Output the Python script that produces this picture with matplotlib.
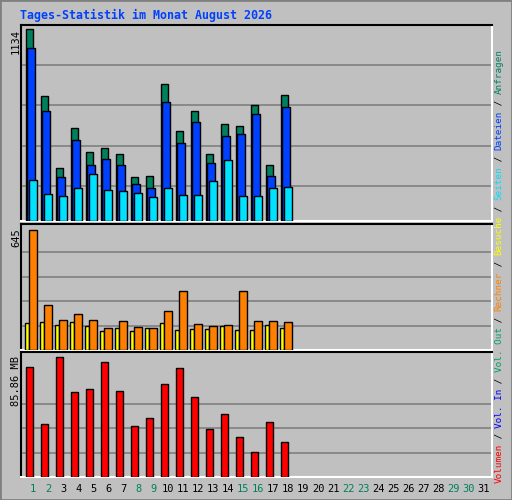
import matplotlib
matplotlib.use("Agg")
import matplotlib.pyplot as plt
from matplotlib.patches import Rectangle

days = list(range(1, 19))
hits  = [1134, 737, 316, 547, 405, 429, 393, 261, 267, 812, 533, 652, 397, 575, 563, 687, 328, 743]
files = [1020, 647, 261, 480, 332, 367, 332, 219, 196, 705, 462, 586, 344, 504, 516, 634, 267, 676]
pages = [243, 160, 148, 196, 279, 184, 178, 166, 142, 196, 154, 154, 237, 362, 148, 148, 196, 202]
visits = [145, 150, 134, 150, 129, 102, 118, 102, 118, 145, 108, 113, 113, 129, 108, 108, 134, 118]
sites  = [645, 242, 161, 194, 161, 118, 156, 124, 118, 210, 317, 140, 129, 134, 317, 156, 156, 150]
volume = [78.7, 37.6, 85.86, 60.5, 62.7, 82.0, 61.2, 36.8, 41.9, 66.2, 78.0, 56.9, 34.0, 45.4, 28.9, 18.2, 39.0, 25.4]
weekend_days = [1, 2, 8, 9, 15, 16, 22, 23, 29, 30]
title = "Tages-Statistik im Monat August 2026"
legend_parts = [("Volumen", "#ff0000"), ("Vol. In", "#0000ff"), ("Vol. Out", "#00a060"),
                ("Rechner", "#ff8000"), ("Besuche", "#ffff00"), ("Seiten", "#00e0ff"),
                ("Dateien", "#0040ff"), ("Anfragen", "#00805c")]

W, H = 512, 500
fig = plt.figure(figsize=(W/100, H/100), dpi=100, facecolor="#c0c0c0")
mono = "DejaVu Sans Mono"

def ax_px(x0, y0, x1, y1):
    return fig.add_axes([x0/W, 1-y1/H, (x1-x0)/W, (y1-y0)/H])

# outer bevel
fig.patches.append(Rectangle((0, 0), 1, 1, transform=fig.transFigure, fill=False,
                             edgecolor="#808080", lw=2))
fig.text(20/W, 1-15/H, title, color="#0040ff", fontsize=8.4, fontweight="bold",
         family=mono, va="center", ha="left")

XL = (0.18, 31.58)
panels = [(25, 221), (224, 350), (352, 477)]
axes = []
for (y0, y1) in panels:
    ax = ax_px(21, y0, 492, y1)
    ax.set_facecolor("#c0c0c0")
    ax.set_xlim(*XL)
    ax.set_xticks([]); ax.set_yticks([])
    ax.spines["top"].set_color("black"); ax.spines["left"].set_color("black")
    ax.spines["bottom"].set_color("white"); ax.spines["right"].set_color("white")
    for s in ax.spines.values():
        s.set_linewidth(1.5)
    axes.append(ax)

kw = dict(edgecolor="black", linewidth=1.0, align="edge", zorder=3)
ax1, ax2, ax3 = axes
m1 = 1134 * 195 / 191
ax1.set_ylim(0, m1)
for f in [35, 75, 115, 155]:
    ax1.axhline(m1 * f / 195, color="#808080", lw=1.2, zorder=1)
ax1.bar([d - 0.51 for d in days], hits, width=0.49, color="#00805c", **kw)
ax1.bar([d - 0.40 for d in days], files, width=0.49, color="#0040ff", **kw)
ax1.bar([d - 0.27 for d in days], pages, width=0.50, color="#00e0ff", **kw)

m2 = 645 * 126 / 120
ax2.set_ylim(0, m2)
for k in range(1, 5):
    ax2.axhline(m2 * (k * 24.5) / 126, color="#808080", lw=1.2, zorder=1)
ax2.bar([d - 0.53 for d in days], visits, width=0.26, color="#ffff00", **kw)
ax2.bar([d - 0.27 for d in days], sites, width=0.50, color="#ff8000", **kw)

m3 = 85.86 * 125 / 120
ax3.set_ylim(0, m3)
for k in range(1, 4):
    ax3.axhline(m3 * (k * 24.5) / 125, color="#808080", lw=1.2, zorder=1)
ax3.bar([d - 0.51 for d in days], volume, width=0.49, color="#ff0000", **kw)

# y max labels
fig.text(16/W, 1-29/H, str(max(hits)), rotation=90, family=mono, fontsize=7.5,
         ha="center", va="top")
fig.text(16/W, 1-228/H, str(max(sites)), rotation=90, family=mono, fontsize=7.5,
         ha="center", va="top")
fig.text(16/W, 1-356/H, "%.2f MB" % max(volume), rotation=90, family=mono, fontsize=7.5,
         ha="center", va="top")

# day labels
for d in range(1, 32):
    x = 33.3 + 15 * (d - 1)
    fig.text(x/W, 1-489/H, str(d), family=mono, fontsize=7.5, ha="center", va="center",
             color="#00805c" if d in weekend_days else "black")

# right legend, rotated, stacked
cw = 5.55
y = 483.0
fs = 6.7
for i, (txt, col) in enumerate(legend_parts):
    fig.text(499/W, 1-y/H, txt, rotation=90, family=mono, fontsize=fs, color=col,
             ha="center", va="bottom")
    y -= len(txt) * cw
    if i < len(legend_parts) - 1:
        fig.text(499/W, 1-y/H, " / ", rotation=90, family=mono, fontsize=fs,
                 color="black", ha="center", va="bottom")
        y -= 3 * cw

fig.savefig("out.png", dpi=100, facecolor=fig.get_facecolor())
